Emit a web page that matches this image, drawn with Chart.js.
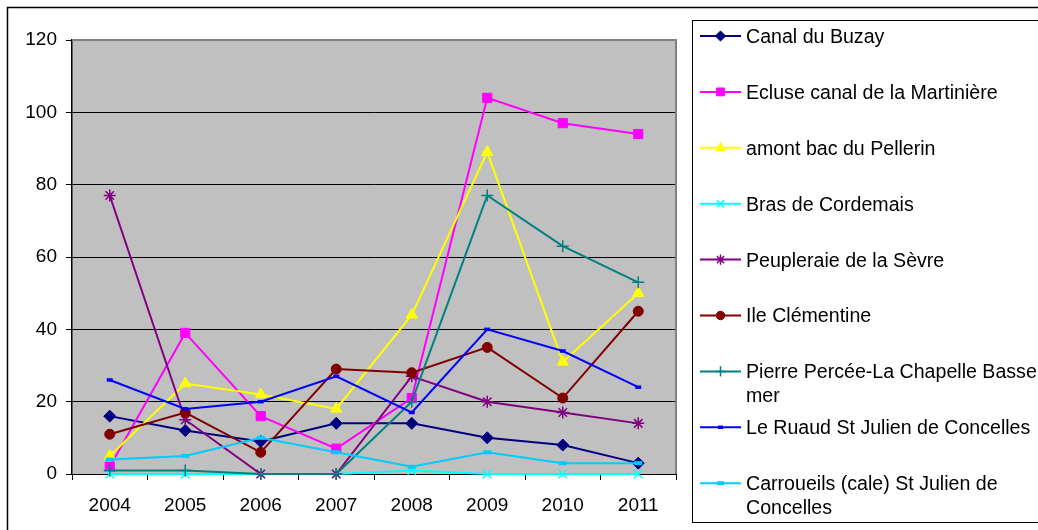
<!DOCTYPE html>
<html>
<head>
<meta charset="utf-8">
<title>Relevés 2004-2011</title>
<script src="https://cdn.jsdelivr.net/npm/chart.js@4/dist/chart.umd.min.js"></script>
<style>
  html, body { margin: 0; padding: 0; background: #ffffff; }
  #wrap { width: 1038px; height: 530px; }
</style>
</head>
<body>
<div id="wrap"><canvas id="chart" width="1038" height="530"></canvas></div>
<script>
// Years on the horizontal axis
const years = ['2004', '2005', '2006', '2007', '2008', '2009', '2010', '2011'];

// One array per site
const canalBuzay       = [16, 12, 9, 14, 14, 10, 8, 3];
const ecluseMartiniere = [2, 39, 16, 7, 21, 104, 97, 94];
const amontPellerin    = [5, 25, 22, 18, 44, 89, 31, 50];
const brasCordemais    = [0, 0, 0, 0, 1, 0, 0, 0];
const peupleraieSevre  = [77, 15, 0, 0, 27, 20, 17, 14];
const ileClementine    = [11, 17, 6, 29, 28, 35, 21, 45];
const pierrePercee     = [1, 1, 0, 0, 20, 77, 63, 53];
const leRuaud          = [26, 18, 20, 27, 17, 40, 34, 24];
const carroueils       = [4, 5, 10, 6, 2, 6, 3, 3];

// Site names, in legend order
const siteNames = [
  'Canal du Buzay',
  'Ecluse canal de la Martinière',
  'amont bac du Pellerin',
  'Bras de Cordemais',
  'Peupleraie de la Sèvre',
  'Ile Clémentine',
  'Pierre Percée-La Chapelle Basse mer',
  'Le Ruaud St Julien de Concelles',
  'Carroueils (cale) St Julien de Concelles'
];

// Value axis range
const yMin = 0, yMax = 120, yStep = 20;

const FONT = '"Liberation Sans", Arial, "DejaVu Sans", sans-serif';

const seriesValues = [canalBuzay, ecluseMartiniere, amontPellerin, brasCordemais,
  peupleraieSevre, ileClementine, pierrePercee, leRuaud, carroueils];

// Line colour and marker per site
const styles = [
  { color: '#000080', point: 'rectRot', radius: 6, pbw: 1 },
  { color: '#FF00FF', point: 'rect', radius: 6.5, pbw: 1 },
  { color: '#FFFF00', point: 'triangle', radius: 6.5, pbw: 1 },
  { color: '#00FFFF', point: 'crossRot', radius: 6, pbw: 1.5 },
  { color: '#800080', point: 'star', radius: 6, pbw: 1.5 },
  { color: '#800000', point: 'circle', radius: 5, pbw: 1 },
  { color: '#008080', point: 'cross', radius: 6, pbw: 1.5 },
  { color: '#0000FF', point: 'line', radius: 3, pbw: 3.5 },
  { color: '#00CCFF', point: 'line', radius: 4, pbw: 4 }
];

const datasets = seriesValues.map((vals, i) => ({
  label: siteNames[i],
  data: vals,
  borderColor: styles[i].color,
  backgroundColor: styles[i].color,
  borderWidth: 2,
  pointStyle: styles[i].point,
  pointRadius: styles[i].radius,
  pointHoverRadius: styles[i].radius,
  pointBorderWidth: styles[i].pbw,
  pointBackgroundColor: styles[i].color,
  pointBorderColor: styles[i].color,
  tension: 0,
  fill: false,
  clip: false,
  // later series are painted over earlier ones
  order: seriesValues.length - i
}));

// Grey plot background, grey top/right plot border and the outer frame
const plotFrame = {
  id: 'plotFrame',
  beforeDraw(chart) {
    const { ctx, chartArea: a } = chart;
    ctx.save();
    ctx.fillStyle = '#ffffff';
    ctx.fillRect(0, 0, chart.width, chart.height);
    ctx.fillStyle = '#C0C0C0';
    ctx.fillRect(a.left, a.top, a.right - a.left, a.bottom - a.top);
    ctx.strokeStyle = '#000000';
    ctx.lineWidth = 1.5;
    ctx.strokeRect(7.5, 7.5, chart.width + 20, chart.height + 20);
    ctx.restore();
  },
  beforeDatasetsDraw(chart) {
    const { ctx, chartArea: a } = chart;
    ctx.save();
    ctx.strokeStyle = '#808080';
    ctx.lineWidth = 2;
    ctx.beginPath();
    ctx.moveTo(a.left, a.top);
    ctx.lineTo(a.right, a.top);
    ctx.lineTo(a.right, a.bottom);
    ctx.stroke();
    ctx.restore();
  }
};

// Boxed legend on the right, with wrapped labels
const boxLegend = {
  id: 'boxLegend',
  afterDraw(chart) {
    const { ctx } = chart;
    const box = { left: 692.5, top: 20.5, bottom: 522.5 };
    const firstY = 36, step = 55.9, lineH = 24, textDy = 1.5;
    const sampleL = 700, sampleR = 741, textX = 746, maxW = 291;
    ctx.save();
    ctx.strokeStyle = '#000000';
    ctx.lineWidth = 1;
    ctx.strokeRect(box.left, box.top, chart.width + 20, box.bottom - box.top);
    ctx.font = '19.6px ' + FONT;
    ctx.textBaseline = 'middle';
    ctx.textAlign = 'left';
    chart.data.datasets.forEach((ds, i) => {
      const y = firstY + step * i;
      ctx.strokeStyle = ds.borderColor;
      ctx.lineWidth = 2;
      ctx.beginPath();
      ctx.moveTo(sampleL, y);
      ctx.lineTo(sampleR, y);
      ctx.stroke();
      ctx.fillStyle = ds.pointBackgroundColor;
      ctx.strokeStyle = ds.pointBorderColor;
      ctx.lineWidth = ds.pointBorderWidth;
      Chart.helpers.drawPoint(ctx, {
        pointStyle: ds.pointStyle,
        radius: ds.pointRadius * 0.85,
        rotation: 0,
        borderWidth: ds.pointBorderWidth
      }, (sampleL + sampleR) / 2, y);
      // word wrap
      const words = ds.label.split(' ');
      const lines = [];
      let cur = '';
      words.forEach(w => {
        const test = cur ? cur + ' ' + w : w;
        if (cur && ctx.measureText(test).width > maxW) {
          lines.push(cur);
          cur = w;
        } else {
          cur = test;
        }
      });
      if (cur) lines.push(cur);
      ctx.fillStyle = '#000000';
      lines.forEach((ln, k) => ctx.fillText(ln, textX, y + textDy + k * lineH));
    });
    ctx.restore();
  }
};

new Chart(document.getElementById('chart'), {
  type: 'line',
  data: { labels: years, datasets },
  options: {
    responsive: false,
    animation: false,
    devicePixelRatio: 1,
    layout: { padding: { left: 0, top: 40, right: 362, bottom: 0 } },
    plugins: {
      legend: { display: false },
      tooltip: { enabled: false }
    },
    elements: { line: { borderJoinStyle: 'miter' } },
    scales: {
      x: {
        type: 'category',
        offset: true,
        grid: {
          display: true,
          offset: true,
          drawOnChartArea: false,
          drawTicks: true,
          tickLength: 6,
          tickColor: '#000000',
          lineWidth: 1
        },
        border: { display: true, color: '#000000', width: 1 },
        ticks: {
          color: '#000000',
          font: { family: FONT, size: 19 },
          padding: 14,
          maxRotation: 0,
          autoSkip: false
        },
        afterFit(s) { s.height = 56; }
      },
      y: {
        min: yMin,
        max: yMax,
        grid: {
          color: '#000000',
          lineWidth: 1,
          drawTicks: true,
          tickLength: 6,
          tickColor: '#000000'
        },
        border: { display: true, color: '#000000', width: 1.5 },
        ticks: {
          stepSize: yStep,
          color: '#000000',
          font: { family: FONT, size: 19 },
          padding: 9
        },
        afterFit(s) { s.width = 72; }
      }
    }
  },
  plugins: [plotFrame, boxLegend]
});
</script>
</body>
</html>
